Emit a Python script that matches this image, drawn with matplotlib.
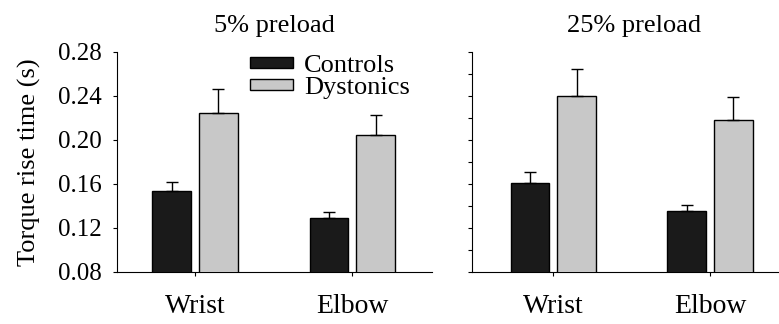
import matplotlib.pyplot as plt
import numpy as np

plt.rcParams['font.family'] = ['Liberation Serif', 'DejaVu Serif']

joints = ['Wrist', 'Elbow']
titles = ['5% preload', '25% preload']
controls_5 = [0.153, 0.129]
controls_5_err = [0.0085, 0.0055]
dystonics_5 = [0.224, 0.204]
dystonics_5_err = [0.022, 0.0185]
controls_25 = [0.161, 0.135]
controls_25_err = [0.0095, 0.0058]
dystonics_25 = [0.240, 0.218]
dystonics_25_err = [0.024, 0.0205]

fig = plt.figure(figsize=(7.79, 3.24), dpi=100)
ax1 = fig.add_axes([0.1498, 0.1614, 0.4048, 0.679])
ax2 = fig.add_axes([0.6063, 0.1614, 0.3937, 0.679])

x = np.arange(len(joints))
w = 0.245
off = 0.149
dark = '#1a1a1a'
light = '#c8c8c8'

panels = [(ax1, controls_5, controls_5_err, dystonics_5, dystonics_5_err),
          (ax2, controls_25, controls_25_err, dystonics_25, dystonics_25_err)]
for i, (ax, c, ce, d, de) in enumerate(panels):
    ax.bar(x - off, c, w, color=dark, edgecolor='black', linewidth=1,
           yerr=[np.zeros(2), ce], capsize=4,
           error_kw=dict(elinewidth=1, capthick=1, ecolor='black'),
           label='Controls', zorder=3)
    ax.bar(x + off, d, w, color=light, edgecolor='black', linewidth=1,
           yerr=[np.zeros(2), de], capsize=4,
           error_kw=dict(elinewidth=1, capthick=1, ecolor='black'),
           label='Dystonics', zorder=3)
    ax.set_ylim(0.08, 0.28)
    ax.spines['top'].set_visible(False)
    ax.spines['right'].set_visible(False)
    ax.set_xticks(x)
    ax.set_xticklabels(joints, fontsize=20)
    ax.tick_params(axis='x', length=3, pad=13)
    ax.tick_params(axis='y', length=3, pad=8, labelsize=18)

ax1.set_xlim(-0.498, 1.507)
ax2.set_xlim(-0.517, 1.44)
ax1.set_yticks(np.arange(0.08, 0.281, 0.04))
ax1.set_yticklabels(['%.2f' % v for v in np.arange(0.08, 0.281, 0.04)])
ax2.set_yticks(np.arange(0.08, 0.281, 0.02))
ax2.set_yticklabels([])
ax1.set_ylabel('Torque rise time (s)', fontsize=19, labelpad=12)

ax1.set_title(titles[0], fontsize=19, pad=14)
ax2.set_title(titles[1], fontsize=19, pad=14, x=0.527)

ax1.legend(loc='upper left', bbox_to_anchor=(0.38, 1.045), frameon=False,
           fontsize=19, handlelength=1.65, handleheight=0.22,
           handletextpad=0.4, labelspacing=0.0, borderpad=0)

fig.savefig('out.png', dpi=100)
